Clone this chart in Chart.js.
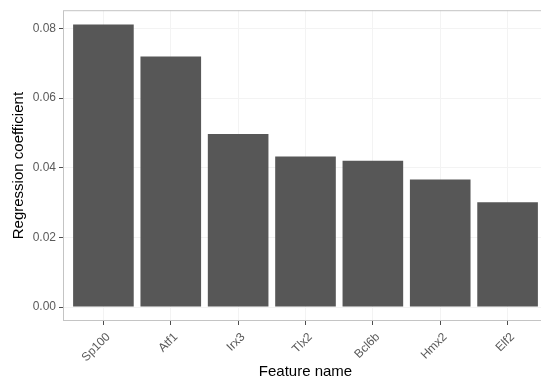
<!DOCTYPE html>
<html lang="en">
<head>
    <meta charset="UTF-8">
    <title>Regression coefficient by feature</title>
    <script src="https://cdn.jsdelivr.net/npm/chart.js"></script>
    <style>
        html, body {
            margin: 0;
            padding: 0;
            overflow: hidden;
            background: #ffffff;
        }
        #wrap {
            width: 548px;
            height: 381px;
        }
    </style>
</head>
<body>
    <div id="wrap"><canvas id="barChart"></canvas></div>

    <script>
        // Values
        const features = ['Sp100', 'Atf1', 'Irx3', 'Tlx2', 'Bcl6b', 'Hmx2', 'Elf2'];
        const coefficients = [0.0811, 0.0719, 0.0497, 0.0432, 0.0420, 0.0366, 0.0301];
        const yTicks = [0.00, 0.02, 0.04, 0.06, 0.08];

        const fontFamily = '"Liberation Sans", Arial, Helvetica, sans-serif';

        // ggplot style panel border
        const panelBorder = {
            id: 'panelBorder',
            afterDraw(chart) {
                const a = chart.chartArea;
                const ctx = chart.ctx;
                ctx.save();
                ctx.strokeStyle = '#c4c4c4';
                ctx.lineWidth = 1;
                ctx.strokeRect(a.left + 0.5, a.top + 0.5, a.right - a.left - 1, a.bottom - a.top - 1);
                ctx.restore();
            }
        };

        const ctx = document.getElementById('barChart').getContext('2d');
        new Chart(ctx, {
            type: 'bar',
            data: {
                datasets: [{
                    data: features.map((f, i) => ({ x: i, y: coefficients[i] })),
                    backgroundColor: '#575757',
                    barPercentage: 0.9,
                    categoryPercentage: 1.0
                }]
            },
            options: {
                responsive: true,
                maintainAspectRatio: false,
                animation: false,
                layout: { padding: { left: 0, right: 0, top: 7, bottom: 0 } },
                plugins: {
                    legend: { display: false },
                    tooltip: { enabled: false }
                },
                scales: {
                    x: {
                        type: 'linear',
                        offset: false,
                        min: -0.6,
                        max: features.length - 0.4,
                        afterBuildTicks: s => { s.ticks = features.map((f, i) => ({ value: i })); },
                        afterFit: s => { s.height = 60; },
                        grid: { offset: false, color: '#f3f3f3', tickColor: '#4d4d4d', tickLength: 4 },
                        border: { display: false },
                        ticks: {
                            autoSkip: false,
                            minRotation: 45,
                            maxRotation: 45,
                            padding: 5,
                            labelOffset: 5,
                            color: '#5a5a5a',
                            font: { family: fontFamily, size: 12 },
                            callback: v => features[v]
                        },
                        title: {
                            display: true,
                            text: 'Feature name',
                            color: '#000000',
                            padding: { top: 0, bottom: 0 },
                            font: { family: fontFamily, size: 15 }
                        }
                    },
                    y: {
                        min: -0.004,
                        max: 0.0852,
                        afterBuildTicks: s => { s.ticks = yTicks.map(v => ({ value: v })); },
                        afterFit: s => { s.width = 63; },
                        grid: { color: '#f3f3f3', tickColor: '#4d4d4d', tickLength: 4 },
                        border: { display: false },
                        ticks: {
                            padding: 3,
                            color: '#5a5a5a',
                            font: { family: fontFamily, size: 12 },
                            callback: v => v.toFixed(2)
                        },
                        title: {
                            display: true,
                            text: 'Regression coefficient',
                            color: '#000000',
                            padding: { top: 10, bottom: 0 },
                            font: { family: fontFamily, size: 15 }
                        }
                    }
                }
            },
            plugins: [panelBorder]
        });
    </script>
</body>
</html>
